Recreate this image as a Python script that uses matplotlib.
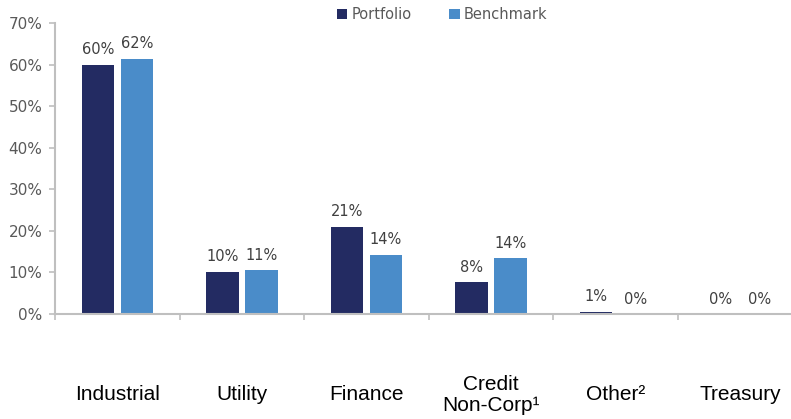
import numpy as np
import matplotlib
matplotlib.use("Agg")
import matplotlib.pyplot as plt
import matplotlib.transforms as mtransforms
from matplotlib.ticker import FixedLocator, PercentFormatter

categories = ["Industrial", "Utility", "Finance", "Credit\nNon-Corp\u00b9", "Other\u00b2", "Treasury"]
portfolio = [60.0, 10.2, 21.0, 7.7, 0.6, 0.0]
benchmark = [61.4, 10.5, 14.2, 13.4, 0.0, 0.0]
port_labels = ["60%", "10%", "21%", "8%", "1%", "0%"]
bench_labels = ["62%", "11%", "14%", "14%", "0%", "0%"]

navy = "#232B62"
blue = "#4A8CC9"
grey_axis = "#BFBFBF"
grey_text = "#595959"

fig = plt.figure(figsize=(7.91, 4.19), dpi=100)
ax = fig.add_axes([55 / 791, 105 / 419, 1 - 55 / 791, 291 / 419])

x = np.arange(len(categories))
w = 0.26
off = 0.157
ax.bar(x - off, portfolio, w, color=navy, label="Portfolio")
ax.bar(x + off, benchmark, w, color=blue, label="Benchmark")

for xi, v, s in zip(x, portfolio, port_labels):
    ax.text(xi - off, v + 1.8, s, ha="center", va="bottom", fontsize=10.5, color="#404040")
for xi, v, s in zip(x, benchmark, bench_labels):
    ax.text(xi + off, v + 1.8, s, ha="center", va="bottom", fontsize=10.5, color="#404040")

ax.set_xlim(-0.5, 5.407)
ax.set_ylim(0, 70)
ax.yaxis.set_major_locator(FixedLocator(np.arange(0, 71, 10)))
ax.yaxis.set_major_formatter(PercentFormatter(decimals=0))

# category names sit well below the axis, vertically centred
trans = mtransforms.blended_transform_factory(ax.transData, ax.transAxes)
for xi, name in zip(x, categories):
    ax.text(xi, -0.278, name, transform=trans, ha="center", va="center", fontsize=15,
            color="black", family=["Liberation Sans", "DejaVu Sans"], linespacing=1.15)

ax.set_xticks(x)
ax.set_xticklabels([])
ax.tick_params(axis="x", which="major", length=0)
ax.xaxis.set_minor_locator(FixedLocator(np.arange(-0.5, 5.0, 1.0)))
ax.tick_params(axis="x", which="minor", length=4, color=grey_axis, width=1.2)
ax.tick_params(axis="y", length=4, color=grey_axis, width=1.2, labelsize=11, labelcolor=grey_text, pad=5)

for sp in ["top", "right"]:
    ax.spines[sp].set_visible(False)
for sp in ["left", "bottom"]:
    ax.spines[sp].set_color(grey_axis)
    ax.spines[sp].set_linewidth(1.5)

fig.legend(loc="center", bbox_to_anchor=(0.559, 0.966), ncol=2, frameon=False, fontsize=10.5,
           handlelength=0.7, handleheight=0.7, handletextpad=0.3, columnspacing=2.6,
           labelcolor=grey_text)

fig.savefig("out.png", dpi=100)
